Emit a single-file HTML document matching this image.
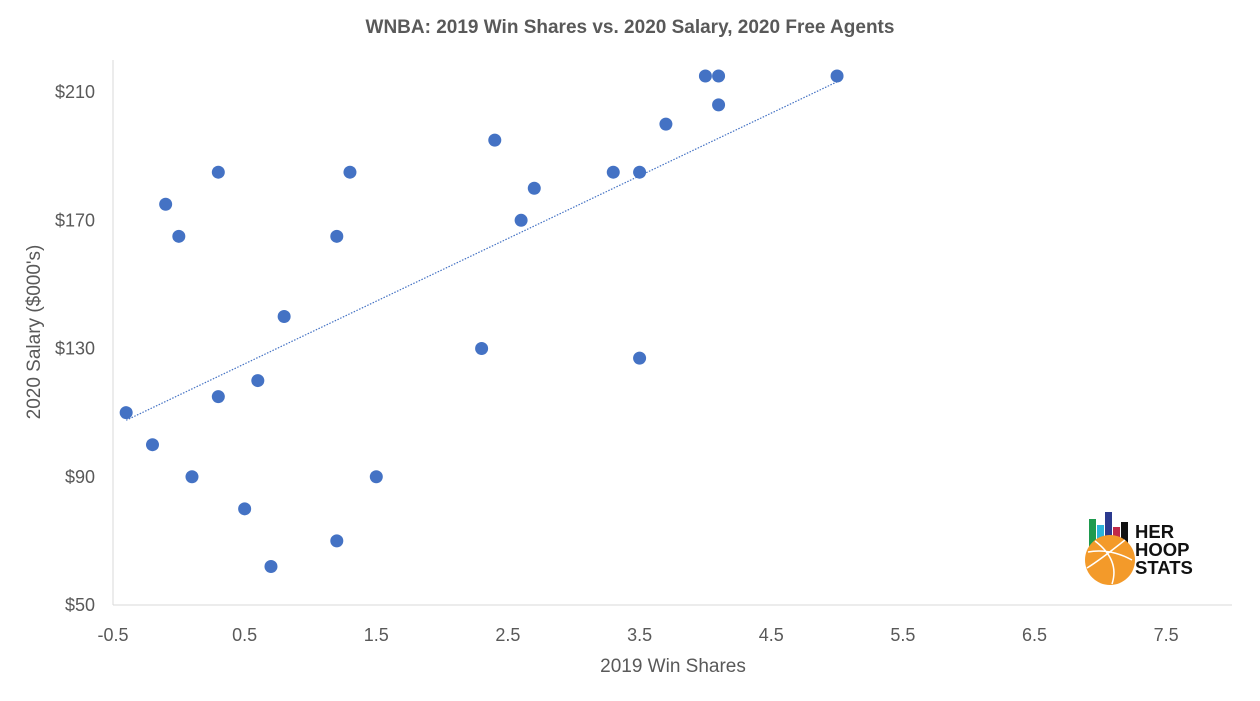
<!DOCTYPE html>
<html><head><meta charset="utf-8"><style>
body{margin:0;background:#fff;}
svg text{font-family:"Liberation Sans",sans-serif;}
</style></head><body>
<svg id="chart" width="1260" height="696" xmlns="http://www.w3.org/2000/svg">
<rect width="1260" height="696" fill="#fff"/>
<text x="630" y="33" text-anchor="middle" font-size="19" font-weight="bold" fill="#595959">WNBA: 2019 Win Shares vs. 2020 Salary, 2020 Free Agents</text>
<g id="axes"></g>
<g id="trend"></g>
<g id="points"></g>
<text x="673" y="672" text-anchor="middle" font-size="19" fill="#595959">2019 Win Shares</text>
<text transform="translate(40,332) rotate(-90)" text-anchor="middle" font-size="19" fill="#595959">2020 Salary ($000's)</text>
<g>
<rect x="1089" y="519" width="7" height="28" fill="#1e9a4e"/>
<rect x="1097" y="525" width="7" height="22" fill="#2ab3d9"/>
<rect x="1105" y="512" width="7" height="35" fill="#2b3a8f"/>
<rect x="1113" y="527" width="7" height="20" fill="#c0294a"/>
<rect x="1121" y="522" width="7" height="25" fill="#111"/>
<circle cx="1110" cy="560" r="25" fill="#f39a2a"/>
<path d="M1088 552 Q1110 548 1132 560 M1095 541 Q1120 560 1112 584 M1087 568 Q1100 560 1125 540" stroke="#fff" stroke-width="1.5" fill="none"/>
<text x="1135" y="538" font-size="18.5" font-weight="bold" fill="#111">HER</text>
<text x="1135" y="556" font-size="18.5" font-weight="bold" fill="#111">HOOP</text>
<text x="1135" y="574" font-size="18.5" font-weight="bold" fill="#111">STATS</text>
</g>
</svg>
<script>
const winShares=[-0.4,-0.2,-0.1,0.0,0.1,0.3,0.3,0.5,0.6,0.7,0.8,1.2,1.2,1.3,1.5,2.3,2.4,2.6,2.7,3.3,3.5,3.5,3.7,4.0,4.1,4.1,5.0];
const salaries=[110,100,175,165,90,185,115,80,120,62,140,165,70,185,90,130,195,170,180,185,185,127,200,215,215,206,215];
const xTicks=[-0.5,0.5,1.5,2.5,3.5,4.5,5.5,6.5,7.5];
const yTicks=[50,90,130,170,210];
const NS="http://www.w3.org/2000/svg";
const X0=113,X1=1232,xmin=-0.5,xmax=8.0,Y0=605,Y1=60,ymin=50,ymax=220;
const xs=v=>X0+(v-xmin)/(xmax-xmin)*(X1-X0);
const ys=v=>Y0-(v-ymin)/(ymax-ymin)*(Y0-Y1);
function mk(t,a,p){const e=document.createElementNS(NS,t);for(const k in a)e.setAttribute(k,a[k]);p.appendChild(e);return e;}
const axes=document.getElementById('axes');
const xl=mk('line',{x1:X0,x2:X1,y1:Y0,y2:Y0,stroke:'#d9d9d9','stroke-width':1},axes);


const yl=mk('line',{x1:X0,x2:X0,y1:Y1,y2:Y0,stroke:'#d9d9d9','stroke-width':1},axes);


xTicks.forEach(v=>{const t=mk('text',{x:xs(v),y:641,'text-anchor':'middle','font-size':18,fill:'#595959'},axes);t.textContent=v;

});
yTicks.forEach(v=>{const t=mk('text',{x:95,y:ys(v)+6,'text-anchor':'end','font-size':18,fill:'#595959'},axes);t.textContent='$'+v;

});
const n=winShares.length;let sx=0,sy=0,sxx=0,sxy=0;
for(let i=0;i<n;i++){sx+=winShares[i];sy+=salaries[i];sxx+=winShares[i]**2;sxy+=winShares[i]*salaries[i];}
const b=(n*sxy-sx*sy)/(n*sxx-sx*sx),a=(sy-b*sx)/n;
const lo=Math.min(...winShares),hi=Math.max(...winShares);
const tl=mk('line',{x1:xs(lo),y1:ys(a+b*lo),x2:xs(hi),y2:ys(a+b*hi),stroke:'#4472c4','stroke-width':1.2,'stroke-dasharray':'1.5 1.5'},document.getElementById('trend'));


const pg=document.getElementById('points');
winShares.forEach((v,i)=>{const c=mk('circle',{cx:xs(v),cy:ys(salaries[i]),r:6.5,fill:'#4472c4'},pg);

});
</script>
</body></html>
